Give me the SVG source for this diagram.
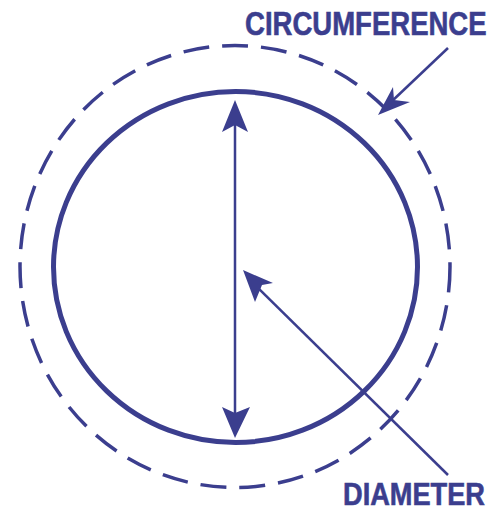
<svg xmlns="http://www.w3.org/2000/svg" width="499" height="514" viewBox="0 0 499 514">
<style>
.c{fill:none;stroke:#3b3e8e}
.l{stroke:#3b3e8e;stroke-width:2.5;fill:none}
.h{fill:#3b3e8e}
.t{font-family:"Liberation Sans",Arial,sans-serif;font-weight:bold;fill:#3b3e8e;stroke:#3b3e8e;stroke-width:0.6}
</style>
<rect width="499" height="514" fill="#fff"/>
<g id="circles">
<ellipse id="dashed-circle" class="c" cx="235" cy="266.5" rx="215" ry="221" stroke-width="3.5" stroke-dasharray="26 13"/>
<ellipse id="circle" class="c" cx="235.5" cy="267" rx="182" ry="175.5" stroke-width="5"/>
</g>
<g id="connectors">
<line class="l" x1="235" y1="120" x2="235" y2="420"/>
<polygon class="h" points="235,100 248,132 235,125 222,132"/>
<polygon class="h" points="235,438 222,407 235,413 250,407"/>
<line class="l" x1="252" y1="282" x2="448" y2="475"/>
<polygon class="h" points="243,270 273,283 262,285 255,302"/>
<line class="l" x1="390" y1="103" x2="448" y2="48"/>
<polygon class="h" points="378,115 393,87 394,100 410,102"/>
</g>
<g id="label-circumference">
<text class="t" transform="translate(245,35) scale(0.81,1)" font-size="34">CIRCUMFERENCE</text>
</g>
<g id="label-diameter">
<text class="t" transform="translate(343,505) scale(0.85,1)" font-size="32">DIAMETER</text>
</g>
</svg>
